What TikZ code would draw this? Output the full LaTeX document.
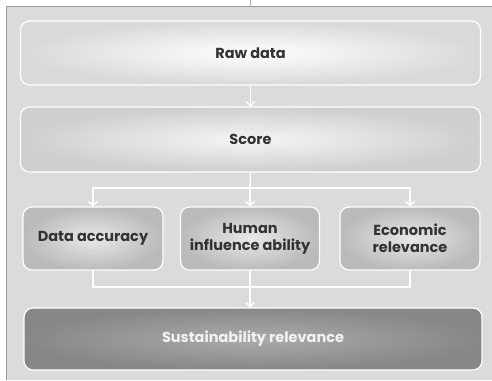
\documentclass[tikz,border=0pt]{standalone}
\usepackage{fontspec}
\setmainfont{Poppins}
\colorlet{PanelFill}{black!14}
\colorlet{BoxOuter}{black!15}
\colorlet{BoxInner}{white}
\colorlet{MidOuter}{black!27}
\colorlet{MidInner}{black!9}
\colorlet{DarkOuter}{black!47}
\colorlet{DarkInner}{black!33}
\usetikzlibrary{arrows.meta}
\tikzset{
    caja/.style={
        draw=white, line width=1.2pt, rounded corners=9pt,
        font=\bfseries\fontsize{14.5}{17}\selectfont, text=black!80,
        align=center, inner sep=0pt
    },
    flecha/.style={
        draw=white, line width=1.4pt,
        -{Straight Barb[length=4pt,width=9pt,line width=1.4pt]}
    },
    linea/.style={draw=white, line width=1.4pt}
}

\begin{document}
\begin{tikzpicture}[x=1pt, y=-1pt]

\useasboundingbox (0, 0) rectangle (492, 380);

% Fondo del panel
\fill[PanelFill] (6, 6) rectangle (492, 380);
\draw[black!40, line width=1pt] (6.5, 380) -- (6.5, 6.5) -- (492, 6.5);
\draw[black!30, line width=0.6pt] (250, 0) -- (250, 6);

% Cajas
\node[caja, inner color=BoxInner, outer color=BoxOuter,
      minimum width=460pt, minimum height=64pt] (raw) at (250.5, 53) {Raw data};
\node[caja, inner color=black!4, outer color=black!19,
      minimum width=460pt, minimum height=65pt] (score) at (250.5, 139.5) {Score};

\node[caja, inner color=MidInner, outer color=MidOuter,
      minimum width=140pt, minimum height=63pt] (acc) at (93, 238.5) {Data accuracy};
\node[caja, inner color=MidInner, outer color=MidOuter,
      minimum width=139pt, minimum height=63pt] (hum) at (250, 238.5) {Human\\influence ability};
\node[caja, inner color=MidInner, outer color=MidOuter,
      minimum width=140pt, minimum height=63pt] (eco) at (410, 238.5) {Economic\\relevance};

\node[caja, inner color=DarkInner, outer color=DarkOuter, text=black!5,
      minimum width=458pt, minimum height=62pt] (sus) at (253, 339) {Sustainability relevance};

\coordinate (split) at (250, 188);
\coordinate (join) at (250, 287);

% Conexiones
\draw[flecha] (raw) -- (score);
\draw[linea] (score.south) -- (split);
\draw[flecha] (split) -| (acc.north);
\draw[flecha] (split) -| (eco.north);
\draw[flecha] (split) -- (hum.north);

\draw[linea] (acc.south) |- (join);
\draw[linea] (eco.south) |- (join);
\draw[flecha] (hum.south) -- (sus.north -| hum.south);

\end{tikzpicture}
\end{document}
